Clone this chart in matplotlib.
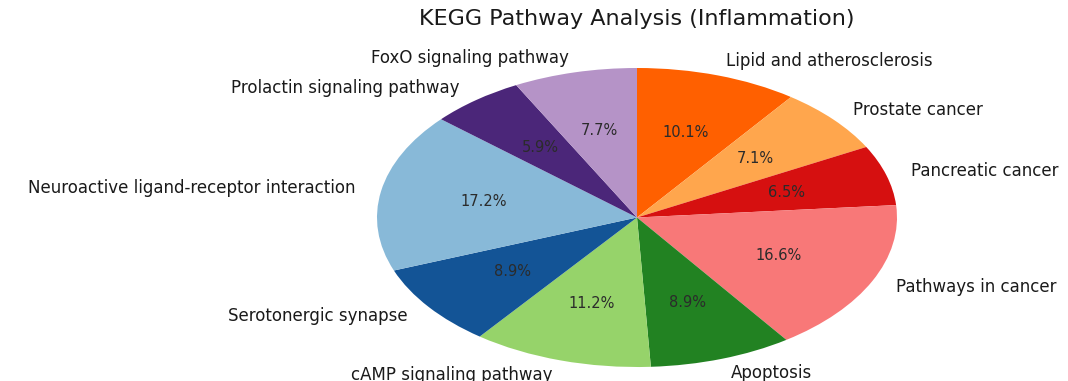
import matplotlib
matplotlib.use("Agg")
import matplotlib.pyplot as plt

pathways = [
    "Lipid and atherosclerosis",
    "Prostate cancer",
    "Pancreatic cancer",
    "Pathways in cancer",
    "Apoptosis",
    "cAMP signaling pathway",
    "Serotonergic synapse",
    "Neuroactive ligand-receptor interaction",
    "Prolactin signaling pathway",
    "FoxO signaling pathway",
]
shares = [10.1, 7.1, 6.5, 16.6, 8.9, 11.2, 8.9, 17.2, 5.9, 7.7]
colors = ["#FF6000", "#FFA64D", "#D61010", "#F87878", "#228222",
          "#96D36A", "#135496", "#88B9D8", "#4B2679", "#B593C7"]

fig = plt.figure(figsize=(10.68, 3.81), dpi=100)
ax = fig.add_axes([377 / 1068, 1 - 367 / 381, 520 / 1068, 299 / 381])

wedges, texts, autotexts = ax.pie(
    shares, labels=pathways, colors=colors, autopct="%1.1f%%",
    startangle=90, counterclock=False, labeldistance=1.1, pctdistance=0.6,
    textprops={"fontsize": 12, "color": "#1a1a1a"},
)
for t in autotexts:
    t.set_color("#2b2b2b")
    t.set_fontsize(10.5)
ax.set_aspect("auto")
ax.set_xlim(-1, 1)
ax.set_ylim(-1, 1)

fig.text(637 / 1068, 1 - 19 / 381, "KEGG Pathway Analysis (Inflammation)",
         ha="center", va="center", fontsize=16, color="#1a1a1a")

fig.savefig("out.png", dpi=100, facecolor="white")
